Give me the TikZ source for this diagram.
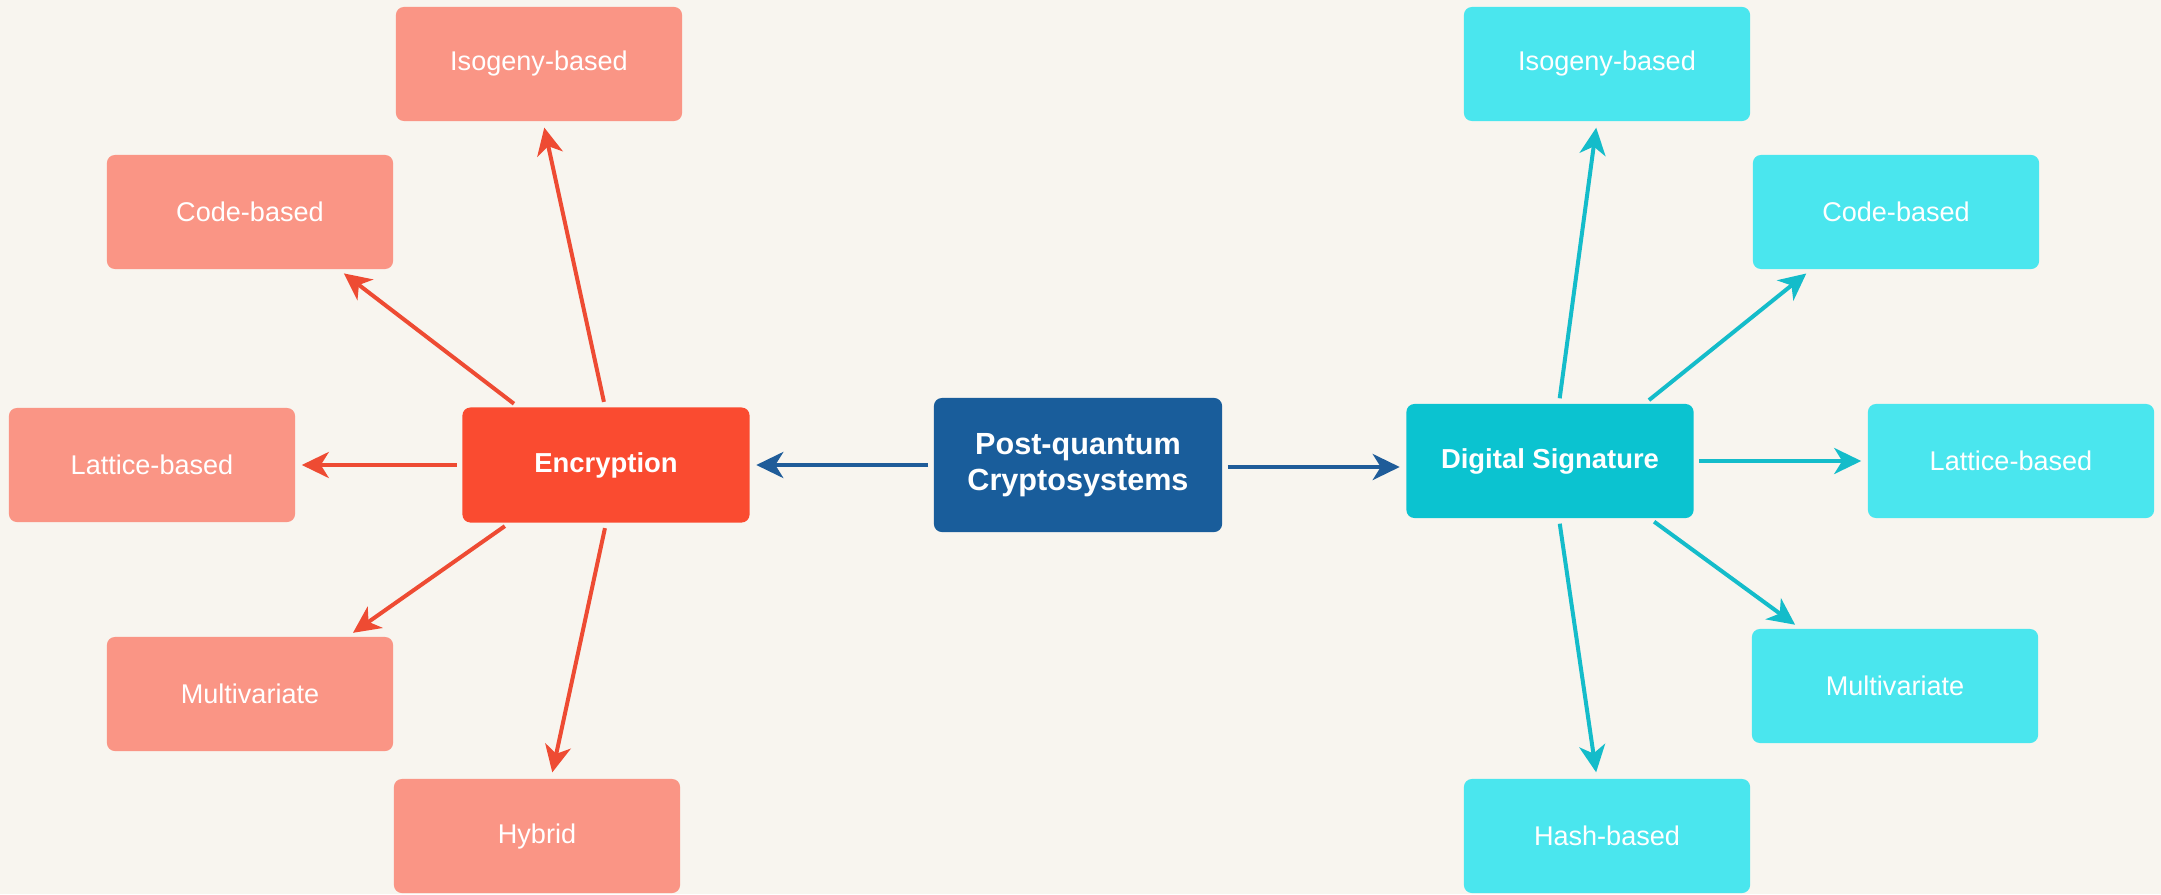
\documentclass[tikz,border=0pt]{standalone}
\usepackage{fontspec}
\setmainfont{Liberation Sans}
\usetikzlibrary{arrows.meta}
\definecolor{bgc}{HTML}{F8F5EF}
\definecolor{pqc}{HTML}{195D9B}
\definecolor{encc}{HTML}{FA4B30}
\definecolor{lleaf}{HTML}{FA9585}
\definecolor{dsc}{HTML}{0BC3D0}
\definecolor{rleaf}{HTML}{4AE6EE}
\definecolor{larr}{HTML}{EE4B33}
\definecolor{rarr}{HTML}{14BCCA}
\definecolor{carr}{HTML}{1F5C99}
\begin{document}
\begin{tikzpicture}[x=0.01cm,y=-0.01cm,
  box/.style={rounded corners=0.08cm, inner sep=0pt, align=center, text=white,
    minimum width=2.86cm, minimum height=1.14cm},
  leafL/.style={box, fill=lleaf, font=\fontsize{7.7}{9}\selectfont},
  leafR/.style={box, fill=rleaf, font=\fontsize{7.7}{9}\selectfont},
  hub/.style={box, font=\bfseries\fontsize{7.8}{9}\selectfont},
  conn/.style={line width=0.04cm, -{Stealth[length=0.27cm, width=0.26cm, inset=0.08cm]},
    shorten <=0.05cm, shorten >=0.06cm},
  larrow/.style={conn, draw=larr, color=larr},
  rarrow/.style={conn, draw=rarr, color=rarr},
  carrow/.style={conn, draw=carr, color=carr}]
\fill[bgc] (0,0) rectangle (2161,894);
\useasboundingbox (0,0) rectangle (2161,894);

% hubs
\node[hub, fill=pqc, minimum width=2.88cm, minimum height=1.34cm,
  font=\bfseries\fontsize{8.7}{10.2}\selectfont] (pq) at (1078,465) {Post-quantum\\Cryptosystems};
\node[hub, fill=encc, minimum width=2.87cm, minimum height=1.15cm] (enc) at (606,465) {Encryption};
\node[hub, fill=dsc, minimum width=2.87cm, minimum height=1.14cm] (ds) at (1550,461) {Digital Signature};

% left leaves
\node[leafL] (liso) at (539,64) {Isogeny-based};
\node[leafL] (lcode) at (250,212) {Code-based};
\node[leafL] (llat) at (152,465) {Lattice-based};
\node[leafL] (lmul) at (250,694) {Multivariate};
\node[leafL] (lhyb) at (537,836) {Hybrid};

% right leaves
\node[leafR] (riso) at (1607,64) {Isogeny-based};
\node[leafR] (rcode) at (1896,212) {Code-based};
\node[leafR] (rlat) at (2011,461) {Lattice-based};
\node[leafR] (rmul) at (1895,686) {Multivariate};
\node[leafR] (rhash) at (1607,836) {Hash-based};

% center arrows
\draw[carrow] (pq.west) -- (pq.west -| enc.east);
\draw[carrow] ([yshift=-0.02cm]pq.east) -- ([yshift=-0.02cm]pq.east -| ds.west);

% left arrows
\draw[larrow] ([xshift=-0.01cm]enc.north) -- ([xshift=0.04cm]liso.south);
\draw[larrow] ([xshift=-0.88cm]enc.north) -- ([xshift=0.89cm]lcode.south);
\draw[larrow] (enc.west) -- (llat.east);
\draw[larrow] ([xshift=-0.97cm]enc.south) -- ([xshift=0.98cm]lmul.north);
\draw[larrow] (enc.south) -- ([xshift=0.14cm]lhyb.north);

% right arrows
\draw[rarrow] ([xshift=0.09cm]ds.north) -- ([xshift=-0.10cm]riso.south);
\draw[rarrow] ([xshift=0.95cm]ds.north) -- ([xshift=-0.85cm]rcode.south);
\draw[rarrow] (ds.east) -- (ds.east -| rlat.west);
\draw[rarrow] ([xshift=1.00cm]ds.south) -- ([xshift=-0.95cm]rmul.north);
\draw[rarrow] ([xshift=0.09cm]ds.south) -- ([xshift=-0.10cm]rhash.north);
\end{tikzpicture}
\end{document}
